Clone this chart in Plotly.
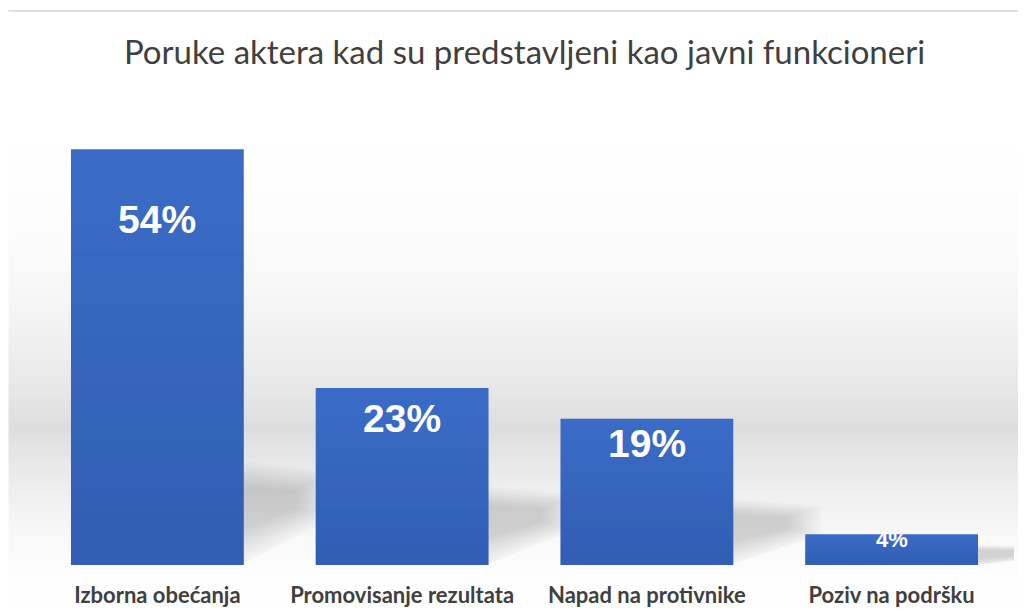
import plotly.graph_objects as go

categories = ["Izborna obećanja", "Promovisanje rezultata", "Napad na protivnike", "Poziv na podršku"]
values = [54, 23, 19, 4]
labels = ["54%", "23%", "19%", "4%"]
title_text = "Poruke aktera kad su predstavljeni kao javni funkcioneri"

# page has an 8px body margin: build the figure to fit inside it
OFF = 8
W, H = 1026 - 2 * OFF, 615 - 2 * OFF
PLOT_L, PLOT_R, PLOT_T, PLOT_B = 34.5, 1014.5, 103, 565  # page pixels
ML = PLOT_L - OFF
MR = W - (PLOT_R - OFF)
MT = PLOT_T - OFF
MB = H - (PLOT_B - OFF)
PW = PLOT_R - PLOT_L
PH = PLOT_B - PLOT_T
YMAX = 60
BARGAP = 0.294


def px_x(p):
    return (p - PLOT_L) / PW


def px_y(p):
    return (PLOT_B - p) / PH


fig = go.Figure()
fig.add_trace(go.Bar(
    x=list(range(len(categories))), y=values,
    marker=dict(color="#3b6cc7", line=dict(width=0)),
    hoverinfo="skip",
))

shapes = []
# top frame line
shapes.append(dict(type="line", xref="paper", yref="paper", layer="below",
                   x0=px_x(OFF), x1=px_x(1026), y0=px_y(11), y1=px_y(11),
                   line=dict(color="#d6d6d6", width=1.5)))


# soft gray "floor" band
def shade(py):
    if py < 150:
        return 254
    if py <= 430:
        t = (py - 150) / 280.0
        return 254 - (254 - 221) * (t ** 2.2)
    if py <= 540:
        t = (py - 430) / 110.0
        return 221 + (249 - 221) * (t ** 0.8)
    return 249 + min(1, (py - 540) / 40.0) * 5


step = 3
p = 150
while p < 612:
    g = int(round(shade(p + step / 2)))
    c = f"rgb({g},{g},{g})"
    shapes.append(dict(type="rect", xref="paper", yref="paper", layer="below",
                       x0=px_x(OFF), x1=px_x(1026), y0=px_y(min(p + step + 0.6, 614)), y1=px_y(p),
                       fillcolor=c, line=dict(width=0)))
    p += step

# soft cast shadows to the right of each bar (layered, shrinking polygons)
half = (1 - BARGAP) / 2
for i, v in enumerate(values):
    R = i + half
    s = min(13.5, v * 0.4 + 1.0)
    w = 0.36
    pts = [(R, -0.5), (R, s), (R + w, s * 0.9), (R + w, s * 0.45)]
    cx = R + w * 0.35
    cy = s * 0.6
    n = 10
    for k in range(n):
        f = 1.0 - 0.065 * k
        qq = [(max(R - 0.01, cx + (a - cx) * f), max(0.0, cy + (b - cy) * f)) for a, b in pts]
        qq[0] = (R - 0.01, qq[0][1])
        qq[1] = (R - 0.01, qq[1][1])
        path = "M " + " L ".join(f"{a:.4f},{b:.4f}" for a, b in qq) + " Z"
        shapes.append(dict(type="path", xref="x", yref="y", layer="below", path=path,
                           fillcolor="rgba(0,0,0,0.017)", line=dict(width=0)))

# subtle vertical gradient on bars (darker towards the base)
nstr = 16
for i, v in enumerate(values):
    for k in range(nstr):
        y0 = v * k / nstr
        y1 = v * (k + 1) / nstr
        a = 0.24 * (1 - (k + 0.5) / nstr)
        shapes.append(dict(type="rect", xref="x", yref="y", layer="above",
                           x0=i - half, x1=i + half, y0=y0, y1=y1 + 0.01,
                           fillcolor=f"rgba(20,50,120,{a:.3f})", line=dict(width=0)))

annotations = []
for i, (v, lab) in enumerate(zip(values, labels)):
    size = 39 if v >= 10 else 22
    annotations.append(dict(x=i, y=v * 0.83, xref="x", yref="y", text=lab,
                            showarrow=False, yanchor="middle",
                            font=dict(family="Liberation Sans, Arial, sans-serif",
                                      size=size, color="#ffffff", weight="bold")))

fig.update_layout(
    width=W, height=H,
    margin=dict(l=ML, r=MR, t=MT, b=MB, pad=0, autoexpand=False),
    paper_bgcolor="#ffffff",
    plot_bgcolor="rgba(0,0,0,0)",
    bargap=BARGAP,
    showlegend=False,
    title=dict(text=title_text, x=0.5, xref="paper", xanchor="center",
               y=1 - (52 - OFF) / H, yanchor="middle",
               font=dict(family="Lato, Open Sans, sans-serif", size=33, color="#404040")),
    xaxis=dict(showgrid=False, zeroline=False, showline=False, ticks="", automargin=False,
               tickmode="array", tickvals=list(range(len(categories))), ticktext=categories,
               range=[-0.5, len(categories) - 0.5],
               tickfont=dict(family="Lato, sans-serif", size=22, color="#404040", weight="bold"),
               ticklabelstandoff=15),
    yaxis=dict(range=[0, YMAX], showgrid=False, zeroline=False, showline=False,
               showticklabels=False, ticks="", automargin=False),
    shapes=shapes,
    annotations=annotations,
)

fig.write_html("out.html")
